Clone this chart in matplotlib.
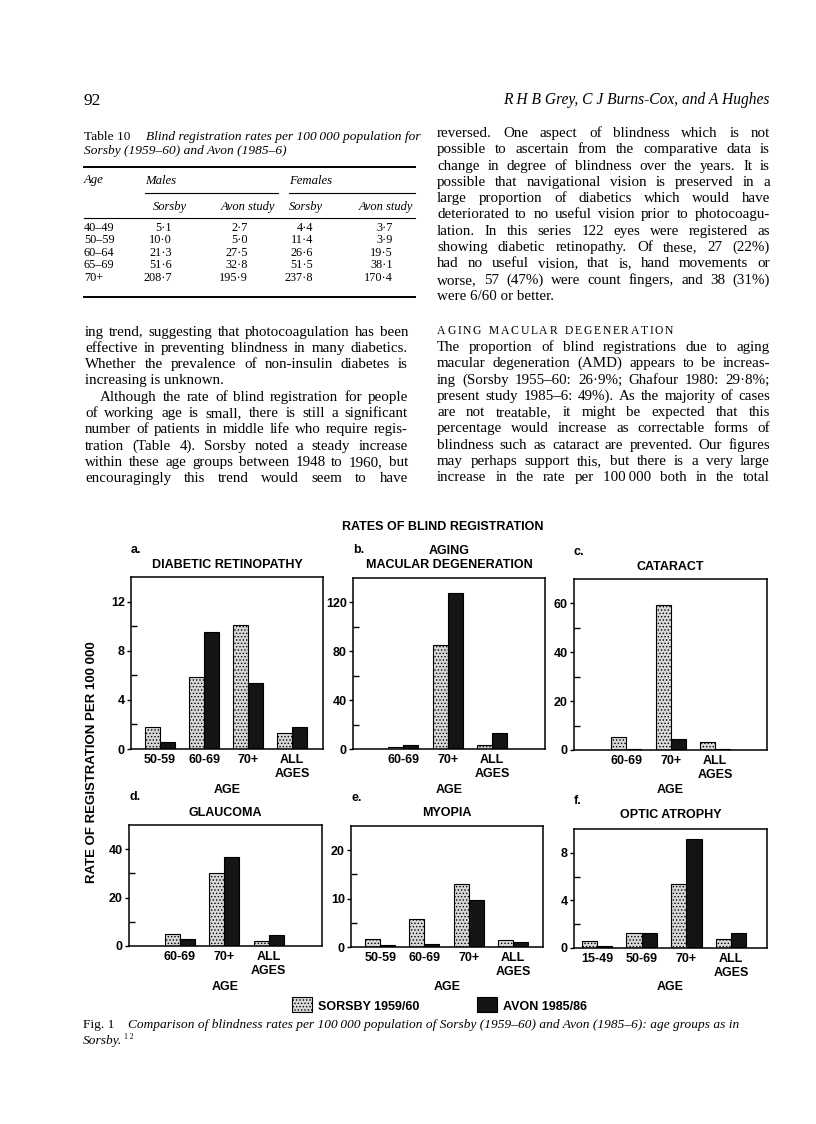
import numpy as np
import matplotlib
matplotlib.use('Agg')
import matplotlib.pyplot as plt
from matplotlib.patches import Rectangle
from matplotlib.lines import Line2D

# ---- chart data (rate per 100 000) ----
ages_a = ['50-59', '60-69', '70+', 'ALL\nAGES']
sorsby_a = [1.8, 5.9, 10.1, 1.3]
avon_a = [0.6, 9.5, 5.4, 1.8]

ages_b = ['60-69', '70+', 'ALL\nAGES']
sorsby_b = [2.0, 85, 3.5]
avon_b = [3.5, 128, 13.3]

ages_c = ['60-69', '70+', 'ALL\nAGES']
sorsby_c = [5.3, 59.2, 3.4]
avon_c = [0.4, 4.4, 0.6]

ages_d = ['60-69', '70+', 'ALL\nAGES']
sorsby_d = [4.9, 30.3, 2.0]
avon_d = [2.7, 36.7, 4.5]

ages_e = ['50-59', '60-69', '70+', 'ALL\nAGES']
sorsby_e = [1.7, 5.7, 13.0, 1.4]
avon_e = [0.5, 0.55, 9.8, 1.0]

ages_f = ['15-49', '50-69', '70+', 'ALL\nAGES']
sorsby_f = [0.55, 1.25, 5.4, 0.75]
avon_f = [0.2, 1.25, 9.2, 1.25]

# ---- table 10 ----
tab_age = ['40\u201349', '50\u201359', '60\u201364', '65\u201369', '70+']
tab_m_sorsby = ['5\u00b71', '10\u00b70', '21\u00b73', '51\u00b76', '208\u00b77']
tab_m_avon = ['2\u00b77', '5\u00b70', '27\u00b75', '32\u00b78', '195\u00b79']
tab_f_sorsby = ['4\u00b74', '11\u00b74', '26\u00b76', '51\u00b75', '237\u00b78']
tab_f_avon = ['3\u00b77', '3\u00b79', '19\u00b75', '38\u00b71', '170\u00b74']

# ---- body text ----
left_p1 = ['ing trend, suggesting that photocoagulation has been',
           'effective in preventing blindness in many diabetics.',
           'Whether the prevalence of non-insulin diabetes is',
           'increasing is unknown.']
left_p2 = ['Although the rate of blind registration for people',
           'of working age is small, there is still a significant',
           'number of patients in middle life who require regis-',
           'tration (Table 4). Sorsby noted a steady increase',
           'within these age groups between 1948 to 1960, but',
           'encouragingly this trend would seem to have']
right_p1 = ['reversed. One aspect of blindness which is not',
            'possible to ascertain from the comparative data is',
            'change in degree of blindness over the years. It is',
            'possible that navigational vision is preserved in a',
            'large proportion of diabetics which would have',
            'deteriorated to no useful vision prior to photocoagu-',
            'lation. In this series 122 eyes were registered as',
            'showing diabetic retinopathy. Of these, 27 (22%)',
            'had no useful vision, that is, hand movements or',
            'worse, 57 (47%) were count fingers, and 38 (31%)',
            'were 6/60 or better.']
right_p2 = ['The proportion of blind registrations due to aging',
            'macular degeneration (AMD) appears to be increas-',
            'ing (Sorsby 1955\u201360: 26\u00b79%; Ghafour 1980: 29\u00b78%;',
            'present study 1985\u20136: 49%). As the majority of cases',
            'are not treatable, it might be expected that this',
            'percentage would increase as correctable forms of',
            'blindness such as cataract are prevented. Our figures',
            'may perhaps support this, but there is a very large',
            'increase in the rate per 100\u2009000 both in the total']

W, H = 816, 1124
fig = plt.figure(figsize=(W / 100, H / 100), dpi=100)
fig.patch.set_facecolor('white')
rend = fig.canvas.get_renderer()
plt.rcParams['hatch.linewidth'] = 0.6

SERIF = ['Liberation Serif', 'DejaVu Serif']
SANS = ['Liberation Sans', 'DejaVu Sans']


def fx(x):
    return x / W


def fy(y):
    return 1 - y / H


def txt(x, y, s, **kw):
    kw.setdefault('family', SERIF)
    kw.setdefault('va', 'baseline')
    return fig.text(fx(x), fy(y), s, **kw)


def justify(line, x0, x1, y, size):
    words = line.split(' ')
    while True:
        objs = [txt(x0, y, w, fontsize=size) for w in words]
        widths = [o.get_window_extent(rend).width for o in objs]
        gap = (x1 - x0 - sum(widths)) / (len(words) - 1)
        if gap >= 2.8 or size < 8:
            break
        for o in objs:
            o.remove()
        size -= 0.15
    x = x0
    for o, w in zip(objs, widths):
        o.set_x(fx(x))
        x += w + gap


def paragraph(lines, x0, x1, y0, step, size, indent=0, last_full=False):
    for i, line in enumerate(lines):
        xs = x0 + (indent if i == 0 else 0)
        y = y0 + i * step
        if i == len(lines) - 1 and not last_full:
            txt(xs, y, line, fontsize=size)
        else:
            justify(line, xs, x1, y, size)


def hline(x0, x1, y, lw):
    fig.add_artist(Line2D([fx(x0), fx(x1)], [fy(y), fy(y)],
                          transform=fig.transFigure, color='black', lw=lw))


# ---- page header ----
txt(84, 105, '92', fontsize=12.5)
txt(769, 104, 'R H B Grey, C J Burns-Cox, and A Hughes', fontsize=11.2,
    style='italic', ha='right')

# ---- table ----
BODY = 10.8
txt(84, 140, 'Table 10', fontsize=9.6)
txt(146, 140, 'Blind registration rates per 100\u2009000 population for',
    fontsize=9.6, style='italic')
txt(84, 154, 'Sorsby (1959\u201360) and Avon (1985\u20136)', fontsize=9.6,
    style='italic')
hline(84, 415, 167, 1.4)
txt(84, 183.5, 'Age', fontsize=9.2, style='italic')
txt(145, 183.5, 'Males', fontsize=9.2, style='italic')
txt(289, 183.5, 'Females', fontsize=9.2, style='italic')
hline(145, 278, 193, 0.8)
hline(289, 415, 193, 0.8)
txt(153, 210, 'Sorsby', fontsize=9.0, style='italic')
txt(275, 210, 'Avon study', fontsize=9.0, style='italic', ha='right')
txt(289, 210, 'Sorsby', fontsize=9.0, style='italic')
txt(413, 210, 'Avon study', fontsize=9.0, style='italic', ha='right')
hline(84, 415, 218, 0.8)
for i in range(len(tab_age)):
    y = 231 + i * 12.4
    txt(84, y, tab_age[i], fontsize=8.8)
    txt(172, y, tab_m_sorsby[i], fontsize=8.8, ha='right')
    txt(248, y, tab_m_avon[i], fontsize=8.8, ha='right')
    txt(313, y, tab_f_sorsby[i], fontsize=8.8, ha='right')
    txt(393, y, tab_f_avon[i], fontsize=8.8, ha='right')
hline(84, 415, 297, 1.4)

# ---- body columns ----
STEP = 16.3
paragraph(left_p1, 85, 408, 335.5, STEP, BODY)
paragraph(left_p2, 85, 408, 335.5 + 4 * STEP, STEP, BODY, indent=15,
          last_full=True)
paragraph(right_p1, 437, 770, 137, STEP, BODY)

# small caps heading, letter spaced
x = 437
for ch in 'AGING MACULAR DEGENERATION':
    if ch == ' ':
        x += 6
        continue
    t = txt(x, 334, ch, fontsize=8.4)
    x += t.get_window_extent(rend).width + 1.7
paragraph(right_p2, 437, 770, 351, STEP, BODY, last_full=True)

# ---- figure ----
CH = dict(family=SANS, weight='bold', fontsize=9)
txt(443, 529.5, 'RATES OF BLIND REGISTRATION', ha='center', **CH)

panels = [
    dict(ages=ages_a, s=sorsby_a, v=avon_a, box=(131, 323, 577, 749), ymax=14,
         major=4, xlim=(-0.66, 3.7), letter='a.', ly=553,
         titles=['DIABETIC RETINOPATHY'], tys=[567.5], agey=793),
    dict(ages=ages_b, s=sorsby_b, v=avon_b, box=(353, 545, 578, 749), ymax=140,
         major=40, xlim=(-1.14, 3.2), letter='b.', ly=553,
         titles=['AGING', 'MACULAR DEGENERATION'], tys=[553.5, 568.5], agey=793),
    dict(ages=ages_c, s=sorsby_c, v=avon_c, box=(574, 767, 579, 750), ymax=70,
         major=20, xlim=(-1.17, 3.16), letter='c.', ly=555,
         titles=['CATARACT'], tys=[569.5], agey=793),
    dict(ages=ages_d, s=sorsby_d, v=avon_d, box=(129, 322, 825, 946), ymax=50,
         major=20, xlim=(-1.14, 3.2), letter='d.', ly=800,
         titles=['GLAUCOMA'], tys=[815.5], agey=990),
    dict(ages=ages_e, s=sorsby_e, v=avon_e, box=(351, 543, 826, 947), ymax=25,
         major=10, xlim=(-0.66, 3.68), letter='e.', ly=801,
         titles=['MYOPIA'], tys=[816.5], agey=990),
    dict(ages=ages_f, s=sorsby_f, v=avon_f, box=(574, 767, 829, 948), ymax=10,
         major=4, xlim=(-0.51, 3.8), letter='f.', ly=804,
         titles=['OPTIC ATROPHY'], tys=[817.5], agey=990),
]

SORSBY_FACE = '#d8d8d8'
AVON_FACE = '#141414'

for p in panels:
    l, r, t, b = p['box']
    ax = fig.add_axes([fx(l), fy(b), (r - l) / W, (b - t) / H])
    xs = np.arange(len(p['ages']))
    ax.bar(xs - 0.17, p['s'], 0.34, color=SORSBY_FACE, edgecolor='black',
           hatch='.....', lw=0.8)
    ax.bar(xs + 0.17, p['v'], 0.34, color=AVON_FACE, edgecolor='black', lw=0.8)
    ax.set_xlim(p['xlim'])
    ax.set_ylim(0, p['ymax'])
    m = p['major']
    ax.set_yticks(np.arange(0, p['ymax'] + 0.01, m))
    ax.set_yticks(np.arange(m / 2, p['ymax'], m), minor=True)
    ax.set_xticks(xs, p['ages'])
    ax.tick_params(axis='y', which='major', direction='out', length=3,
                   width=1, pad=1.5)
    ax.tick_params(axis='y', which='minor', direction='in', length=4, width=1)
    ax.tick_params(axis='x', length=0, pad=3.5)
    for lab in ax.get_xticklabels() + ax.get_yticklabels():
        lab.set_family(SANS)
        lab.set_weight('bold')
        lab.set_fontsize(9)
    for lab in ax.get_xticklabels():
        lab.set_linespacing(1.25)
    for sp in ax.spines.values():
        sp.set_linewidth(1.1)
    txt(l, p['ly'], p['letter'], **CH)
    for s, y in zip(p['titles'], p['tys']):
        txt((l + r) / 2, y, s, ha='center', **CH)
    txt((l + r) / 2, p['agey'], 'AGE', ha='center', **CH)

fig.text(fx(92), fy(762), 'RATE OF REGISTRATION PER 100 000', rotation=90,
         ha='center', va='center', family=SANS, weight='bold', fontsize=9.5)

# legend
fig.add_artist(Rectangle((fx(292), fy(1012)), 20 / W, 15 / H,
                         transform=fig.transFigure, facecolor=SORSBY_FACE,
                         edgecolor='black', hatch='.....', lw=0.8))
txt(318, 1009.5, 'SORSBY 1959/60', **CH)
fig.add_artist(Rectangle((fx(477), fy(1012)), 20 / W, 15 / H,
                         transform=fig.transFigure, facecolor=AVON_FACE,
                         edgecolor='black', lw=0.8))
txt(503, 1009.5, 'AVON 1985/86', **CH)

# caption
txt(83, 1028, 'Fig. 1', fontsize=9.6)
txt(128, 1028, 'Comparison of blindness rates per 100\u2009000 population of Sorsby '
    '(1959\u201360) and Avon (1985\u20136): age groups as in', fontsize=9.6,
    style='italic')
t = txt(83, 1044, 'Sorsby.', fontsize=9.6, style='italic')
txt(83 + t.get_window_extent(rend).width + 2, 1039, '1 2', fontsize=5.5)

fig.savefig('out.png', dpi=100)
